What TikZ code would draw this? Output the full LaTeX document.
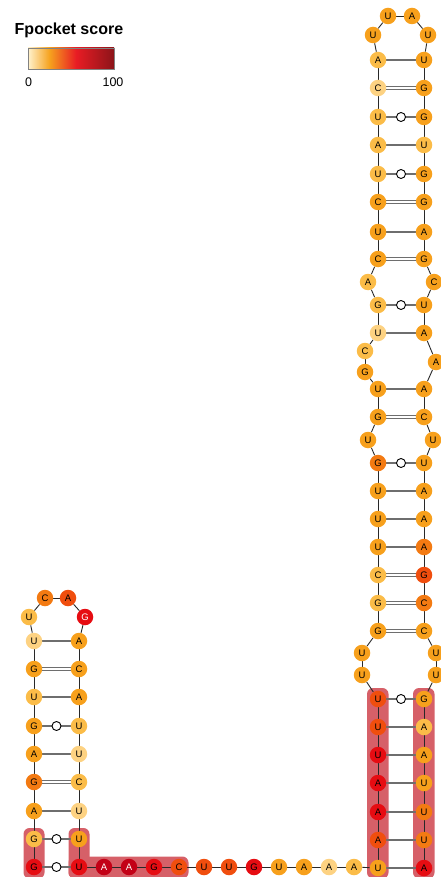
\documentclass[tikz,border=0pt]{standalone}
\usepackage{fontspec}
\setmainfont{Liberation Sans}
\usetikzlibrary{calc}
\definecolor{cpale}{RGB}{253,210,130}
\definecolor{clight}{RGB}{251,188,72}
\definecolor{corange}{RGB}{247,160,28}
\definecolor{cdorange}{RGB}{243,122,18}
\definecolor{credor}{RGB}{240,78,14}
\definecolor{cred}{RGB}{230,12,18}
\definecolor{cdred}{RGB}{195,0,22}
\definecolor{cband}{RGB}{214,96,104}
\definecolor{cbb}{RGB}{40,40,40}
\definecolor{cpair}{RGB}{110,110,110}
\definecolor{cb0}{RGB}{255,242,205}
\definecolor{cb1}{RGB}{246,162,30}
\definecolor{cb2}{RGB}{232,28,36}
\definecolor{cb3}{RGB}{140,20,25}
\definecolor{cbarline}{RGB}{130,130,130}
\pgfdeclarelayer{bands}
\pgfdeclarelayer{lines}
\pgfsetlayers{bands,lines,main}
\pgfdeclarehorizontalshading{fpshade}{100bp}{color(0bp)=(cb0); color(25bp)=(cb0); color(37.5bp)=(cb1); color(53bp)=(cb2); color(75bp)=(cb3); color(100bp)=(cb3)}
\tikzset{
  nt/.style={circle, inner sep=0pt, minimum size=16.5pt, font=\fontsize{9.5}{10}\selectfont},
  bb/.style={draw=cbb, line width=0.9pt},
  pairs/.style={draw=cpair, line width=1.3pt},
  paird/.style={draw=cpair, line width=1pt, double=white, double distance=1.6pt},
  wob/.style={circle, draw=black, fill=white, line width=0.9pt, inner sep=0pt, minimum size=9pt},
  bandfill/.style={fill=cband, rounded corners=6pt},
  lbl/.style={inner sep=0pt, anchor=base, font=\fontsize{12.5}{14}\selectfont}
}
\begin{document}
\begin{tikzpicture}[x=1pt, y=-1pt]
\useasboundingbox (0,0) rectangle (441,877);
% nodes
\foreach \i/\lt/\x/\y/\cl/\tc in {
1/G/34/867/cred/black, 2/G/34/839/clight/black, 3/A/34/811/corange/black,
4/G/34/782/cdorange/black, 5/A/34/754/corange/black, 6/G/34/726/corange/black,
7/U/34/697/clight/black, 8/G/34/669/corange/black, 9/U/34/641/cpale/black,
10/U/29/617/clight/black, 11/C/45/598/cdorange/black, 12/A/68/598/credor/black,
13/G/85/617/cred/white, 14/A/79/641/corange/black, 15/C/79/669/corange/black,
16/A/79/697/corange/black, 17/U/79/726/clight/black, 18/U/79/754/cpale/black,
19/C/79/782/clight/black, 20/U/79/811/cpale/black, 21/U/79/839/corange/black,
22/U/79/867/cred/black, 23/A/104/867/cdred/white, 24/A/129/867/cdred/white,
25/G/154/867/cred/black, 26/C/179/867/credor/black, 27/U/204/867/credor/black,
28/U/229/867/credor/black, 29/G/254/867/cred/black, 30/U/279/867/corange/black,
31/A/304/867/corange/black, 32/A/329/867/cpale/black, 33/A/354/867/clight/black,
34/U/378/868/corange/black, 35/A/378/840/credor/black, 36/A/378/812/cred/black,
37/A/378/783/cred/black, 38/U/378/755/cred/black, 39/U/378/727/credor/black,
40/U/378/699/credor/black, 41/U/362/675/corange/black, 42/U/362/653/corange/black,
43/G/378/631/corange/black, 44/G/378/603/clight/black, 45/C/378/575/clight/black,
46/U/378/547/corange/black, 47/U/378/519/corange/black, 48/U/378/491/corange/black,
49/G/378/463/cdorange/black, 50/U/368/440/corange/black, 51/G/378/417/corange/black,
52/U/378/389/corange/black, 53/G/365/372/corange/black, 54/C/365/351/clight/black,
55/U/378/333/cpale/black, 56/G/378/305/clight/black, 57/A/368/282/clight/black,
58/C/378/259/corange/black, 59/U/378/232/corange/black, 60/C/378/202/corange/black,
61/U/378/174/clight/black, 62/A/378/145/clight/black, 63/U/378/117/clight/black,
64/C/378/88/cpale/black, 65/A/378/60/clight/black, 66/U/373/35/corange/black,
67/U/388/16/corange/black, 68/A/412/16/corange/black, 69/U/428/35/corange/black,
70/U/424/60/corange/black, 71/G/424/88/corange/black, 72/G/424/117/corange/black,
73/U/424/145/clight/black, 74/G/424/174/corange/black, 75/G/424/202/corange/black,
76/A/424/232/corange/black, 77/G/424/259/corange/black, 78/C/434/282/corange/black,
79/U/424/305/corange/black, 80/A/424/333/corange/black, 81/A/436/362/corange/black,
82/A/424/389/corange/black, 83/C/424/417/corange/black, 84/U/433/440/corange/black,
85/U/424/463/corange/black, 86/A/424/491/corange/black, 87/A/424/519/corange/black,
88/A/424/547/cdorange/black, 89/G/424/575/credor/black, 90/C/424/603/cdorange/black,
91/C/424/631/corange/black, 92/U/436/653/corange/black, 93/U/436/675/corange/black,
94/G/424/699/corange/black, 95/A/424/727/clight/black, 96/A/424/755/corange/black,
97/U/424/783/corange/black, 98/U/424/812/cdorange/black, 99/U/424/840/cdorange/black,
100/A/424/868/cred/black}
{ \node[nt, fill=\cl, text=\tc] (n\i) at (\x,\y) {\lt}; }
% highlight bands
\begin{pgfonlayer}{bands}
\fill[bandfill] (23.5,828) rectangle (44.5,878.5);
\fill[bandfill] (68.5,828) rectangle (89.5,878.5);
\fill[bandfill] (68.5,856.5) rectangle (188.5,878.5);
\fill[bandfill] (367,688) rectangle (388.5,878.5);
\fill[bandfill] (413,688) rectangle (434.5,878.5);
\end{pgfonlayer}
% connectors
\begin{pgfonlayer}{lines}
\foreach \i [evaluate=\i as \j using int(\i+1)] in {1,...,99}
  { \draw[bb] (n\i) -- (n\j); }
\foreach \a/\b in {3/20, 5/18, 7/16, 9/14, 34/100, 35/99, 36/98, 37/97, 38/96, 39/95,
  46/88, 47/87, 48/86, 52/82, 55/80, 59/76, 62/73, 65/70}
  { \draw[pairs] (n\a) -- (n\b); }
\foreach \a/\b in {4/19, 8/15, 43/91, 44/90, 45/89, 51/83, 58/77, 60/75, 64/71}
  { \draw[paird] (n\a) -- (n\b); }
\foreach \a/\b in {1/22, 2/21, 6/17, 40/94, 49/85, 56/79, 61/74, 63/72}
  { \draw[pairs] (n\a) -- (n\b) node[midway, wob] {}; }
\end{pgfonlayer}
% legend
\node[anchor=base west, inner sep=0pt, font=\bfseries\fontsize{16}{18}\selectfont] (title) at (14.5,34.3) {Fpocket score};
\shade[shading=fpshade, draw=cbarline, line width=0.8pt] (28,48) rectangle (114,69);
\node[lbl] (l0) at (28.5,86.3) {0};
\node[lbl] (l100) at (113,86.3) {100};
\end{tikzpicture}
\end{document}
